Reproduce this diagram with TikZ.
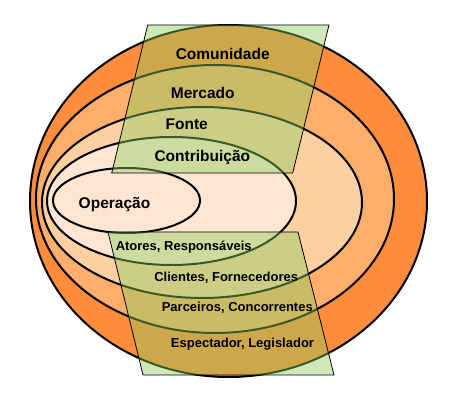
\documentclass[tikz,border=0pt]{standalone}
\usepackage{fontspec}
\setmainfont{Liberation Sans}
\definecolor{cOne}{HTML}{FD8D3C}
\definecolor{cTwo}{HTML}{FDAE6B}
\definecolor{cThree}{HTML}{FDD0A2}
\definecolor{cFour}{HTML}{FEE6D2}
\definecolor{bandgreen}{RGB}{140,205,95}
\begin{document}
\begin{tikzpicture}[x=1pt,y=-1pt,
  ring/.style={draw=black,line width=2pt},
  band/.style={fill=bandgreen,fill opacity=0.43,draw=black,line width=0.8pt},
  biglbl/.style={anchor=base,inner sep=0pt,font=\fontsize{15.5}{18}\selectfont\bfseries},
  smalllbl/.style={anchor=base,inner sep=0pt,font=\fontsize{13}{15}\selectfont\bfseries}]
\useasboundingbox (0,0) rectangle (472,406);
% rings
\draw[ring,fill=cOne] (228.5,201) ellipse [x radius=198.5pt, y radius=176pt];
\draw[ring,fill=cTwo] (215,199) ellipse [x radius=179pt, y radius=134pt];
\draw[ring,fill=cThree] (202,202.5) ellipse [x radius=160pt, y radius=95.5pt];
\draw[ring,fill=cFour] (171.5,201) ellipse [x radius=124.5pt, y radius=64pt];
\draw[ring,fill=cFour] (126.5,200.5) ellipse [x radius=73.5pt, y radius=32.5pt];
% bands
\draw[band] (147.7,25) -- (329,25) -- (292.7,173) -- (111.7,173) -- cycle;
\draw[band] (108,232) -- (298,232) -- (334,375) -- (143,375) -- cycle;
% labels
\node[biglbl] (com) at (222.7,59.3) {Comunidade};
\node[biglbl] (mer) at (202.8,98.3) {Mercado};
\node[biglbl] (fon) at (186.7,130) {Fonte};
\node[biglbl] (con) at (202.3,162) {Contribuição};
\node[biglbl] (ope) at (114.5,209) {Operação};
\node[smalllbl] (ato) at (183.7,251) {Atores, Responsáveis};
\node[smalllbl] (cli) at (226.2,281.7) {Clientes, Fornecedores};
\node[smalllbl] (par) at (237.3,311.5) {Parceiros, Concorrentes};
\node[smalllbl] (esp) at (242.5,347.5) {Espectador, Legislador};
\end{tikzpicture}
\end{document}
